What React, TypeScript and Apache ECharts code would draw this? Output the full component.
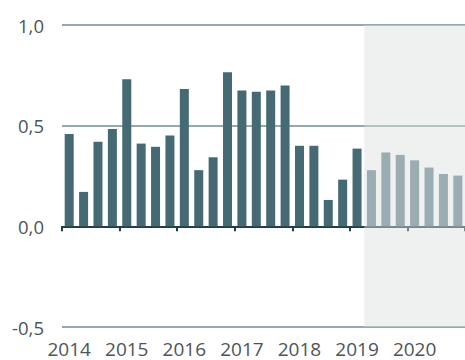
import React, { useEffect, useRef } from "react";
import * as echarts from "echarts";

const years = ["2014", "2015", "2016", "2017", "2018", "2019", "2020"];
const quarters = ["Q1", "Q2", "Q3", "Q4"];
const categories = years.flatMap((y) => quarters.map((q) => y + q));

// 2014Q1 .. 2019Q1 (actual)
const actualValues = [
  0.458, 0.171, 0.42, 0.483, 0.731, 0.411, 0.395, 0.451, 0.682, 0.279, 0.343,
  0.765, 0.675, 0.668, 0.675, 0.70, 0.40, 0.40, 0.131, 0.232, 0.386,
];
// 2019Q2 .. 2020Q4 (forecast)
const forecastValues = [0.279, 0.367, 0.355, 0.328, 0.292, 0.26, 0.252];

const yTicks = [-0.5, 0, 0.5, 1.0];

export default function App() {
  const ref = useRef<HTMLDivElement>(null);
  useEffect(() => {
    if (!ref.current) return;
    const chart = echarts.init(ref.current, undefined, { renderer: "svg" });
    const n = categories.length;
    const actualData = categories.map((_, i) => (i < actualValues.length ? actualValues[i] : null));
    const forecastData = categories.map((_, i) =>
      i >= actualValues.length ? forecastValues[i - actualValues.length] : null
    );
    const font = "'Open Sans', 'Noto Sans', sans-serif";
    chart.setOption({
      animation: false,
      grid: { left: 62, right: 0, top: 25, bottom: 33, containLabel: false },
      xAxis: [
        {
          type: "category",
          data: categories,
          boundaryGap: true,
          axisLine: { show: true, onZero: true, lineStyle: { color: "#1f3e48", width: 2 } },
          axisTick: { show: true, interval: 3, length: 5, inside: false, lineStyle: { color: "#1f3e48", width: 2 } },
          axisLabel: { show: false },
          splitLine: { show: false },
        },
        {
          type: "category",
          data: categories,
          position: "bottom",
          boundaryGap: true,
          axisLine: { show: false, onZero: false },
          axisTick: { show: false },
          axisLabel: {
            show: true,
            interval: 3,
            margin: 12,
            fontSize: 19,
            lineHeight: 19,
            fontFamily: font,
            color: "#4d5559",
            formatter: (v: string) => v.slice(0, 4),
          },
          splitLine: { show: false },
        },
        {
          type: "value",
          min: 0,
          max: n,
          show: false,
        },
      ],
      yAxis: {
        type: "value",
        min: yTicks[0],
        max: yTicks[yTicks.length - 1],
        interval: 0.5,
        axisLine: { show: false },
        axisTick: { show: false },
        axisLabel: {
          margin: 18,
          fontSize: 18.5,
          fontFamily: font,
          color: "#4d5559",
          formatter: (v: number) => v.toFixed(1).replace(".", ","),
        },
        splitLine: { show: true, lineStyle: { color: "#6f8c90", width: 1.5 } },
      },
      series: [
        {
          type: "line",
          xAxisIndex: 2,
          data: [],
          silent: true,
          markArea: {
            silent: true,
            itemStyle: { color: "rgba(220,225,225,0.45)" },
            data: [[{ xAxis: actualValues.length }, { xAxis: n }]],
          },
        },
        {
          type: "bar",
          xAxisIndex: 0,
          data: actualData,
          barWidth: 9,
          barGap: "-100%",
          itemStyle: { color: "#456a73" },
        },
        {
          type: "bar",
          xAxisIndex: 0,
          data: forecastData,
          barWidth: 9,
          barGap: "-100%",
          itemStyle: { color: "#9aadb2" },
        },
      ],
    });
    return () => chart.dispose();
  }, []);
  return <div ref={ref} style={{ width: 465, height: 360, position: "absolute", left: 0, top: 0 }} />;
}
